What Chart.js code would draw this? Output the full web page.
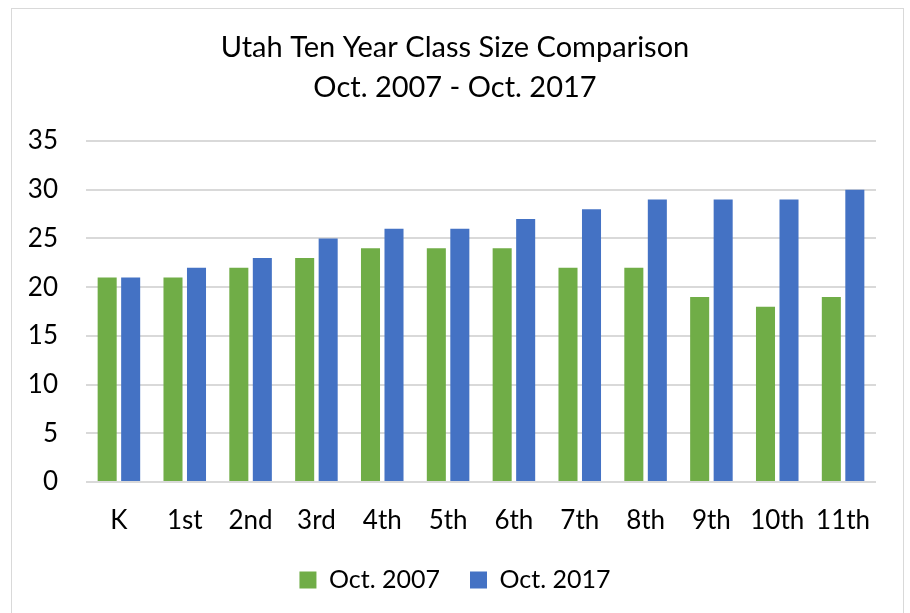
<!DOCTYPE html>
<html lang="en">
<head>
    <meta charset="UTF-8">
    <title>Utah Ten Year Class Size Comparison</title>
    <script src="https://cdn.jsdelivr.net/npm/chart.js"></script>
    <style>
        html, body { margin: 0; padding: 0; background: #fff; }
        #marco {
            position: absolute; left: 11px; top: 8px; width: 893px; height: 620px;
            border: 1px solid #d9d9d9; box-sizing: border-box;
        }
        #wrap { position: absolute; left: 0; top: 0; width: 910px; height: 613px; }
    </style>
</head>
<body>
    <div id="marco"></div>
    <div id="wrap"><canvas id="myChart" width="910" height="613"></canvas></div>

    <script>
        // Datos
        const grados = ['K', '1st', '2nd', '3rd', '4th', '5th', '6th', '7th', '8th', '9th', '10th', '11th'];
        const oct2007 = [21, 21, 22, 23, 24, 24, 24, 22, 22, 19, 18, 19];
        const oct2017 = [21, 22, 23, 25, 26, 26, 27, 28, 29, 29, 29, 30];
        const ticksY = [0, 5, 10, 15, 20, 25, 30, 35];

        const fuente = 'Lato, "Open Sans", sans-serif';

        const ctx = document.getElementById('myChart').getContext('2d');
        const myChart = new Chart(ctx, {
            type: 'bar',
            data: {
                labels: grados,
                datasets: [{
                    label: 'Oct. 2007',
                    data: oct2007,
                    backgroundColor: '#70AD47',
                    categoryPercentage: 0.714,
                    barPercentage: 0.81
                }, {
                    label: 'Oct. 2017',
                    data: oct2017,
                    backgroundColor: '#4472C4',
                    categoryPercentage: 0.714,
                    barPercentage: 0.81
                }]
            },
            options: {
                responsive: false,
                animation: false,
                layout: { padding: { left: 0, right: 0, top: 0, bottom: 10.5 } },
                scales: {
                    x: {
                        grid: { display: false, drawTicks: false },
                        border: { display: false },
                        afterFit: s => { s.height = 55.5; },
                        ticks: { color: '#000', font: { family: fuente, size: 26 }, padding: 23.4 }
                    },
                    y: {
                        min: 0,
                        max: 35,
                        afterBuildTicks: s => { s.ticks = ticksY.map(v => ({ value: v })); },
                        afterFit: s => { s.width = 86; },
                        grid: { color: '#d9d9d9', lineWidth: 2, drawTicks: false },
                        border: { display: false },
                        ticks: { color: '#000', font: { family: fuente, size: 26 }, padding: 28 }
                    },
                    // eje vacio a la derecha para dejar el margen
                    derecha: {
                        type: 'linear',
                        position: 'right',
                        grid: { display: false, drawTicks: false },
                        border: { display: false },
                        ticks: { display: false },
                        afterFit: s => { s.width = 34; }
                    }
                },
                plugins: {
                    title: {
                        display: true,
                        text: ['Utah Ten Year Class Size Comparison', 'Oct. 2007 - Oct. 2017'],
                        color: '#000',
                        font: { family: fuente, size: 29, weight: 'normal', lineHeight: 1.38 },
                        padding: { top: 28, bottom: 33 }
                    },
                    legend: {
                        position: 'bottom',
                        labels: {
                            color: '#000',
                            font: { family: fuente, size: 25 },
                            boxWidth: 17,
                            boxHeight: 17,
                            padding: 30
                        }
                    },
                    tooltip: { enabled: false }
                }
            }
        });
    </script>
</body>
</html>
